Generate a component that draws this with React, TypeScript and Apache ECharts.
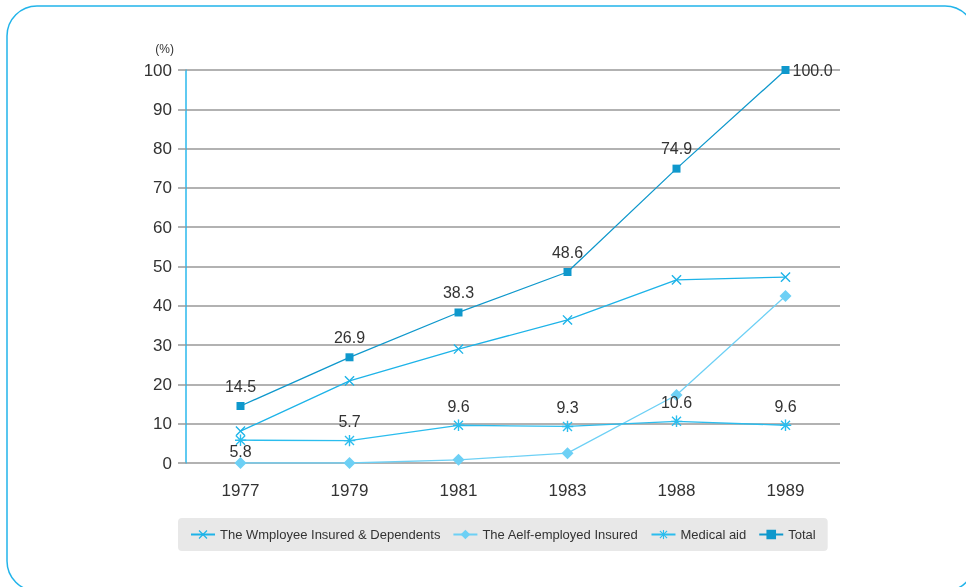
import React, { useEffect, useRef } from "react";
import * as echarts from "echarts";

const years = ["1977", "1979", "1981", "1983", "1988", "1989"];
const employee = [8.1, 20.9, 29.0, 36.4, 46.6, 47.3];
const selfEmployed = [0, 0, 0.8, 2.5, 17.3, 42.5];
const medicalAid = [5.8, 5.7, 9.6, 9.3, 10.6, 9.6];
const total = [14.5, 26.9, 38.3, 48.6, 74.9, 100.0];
const legendNames = ["The Wmployee Insured & Dependents", "The Aelf-employed Insured", "Medical aid", "Total"];

const font = "'Liberation Sans', Arial, sans-serif";

const crossSvg = (c: string) =>
  "image://data:image/svg+xml;utf8," +
  encodeURIComponent(`<svg xmlns="http://www.w3.org/2000/svg" width="12" height="12"><path d="M1 1L11 11M11 1L1 11" stroke="${c}" stroke-width="1.5"/></svg>`);
const starSvg = (c: string) =>
  "image://data:image/svg+xml;utf8," +
  encodeURIComponent(`<svg xmlns="http://www.w3.org/2000/svg" width="12" height="12"><path d="M1.5 1.5L10.5 10.5M10.5 1.5L1.5 10.5M6 0L6 12M0 6L12 6" stroke="${c}" stroke-width="1.4"/></svg>`);

export default function App() {
  const ref = useRef<HTMLDivElement>(null);
  useEffect(() => {
    const chart = echarts.init(ref.current!, null, { renderer: "svg" });
    const lbl = { show: true, color: "#333", fontSize: 16, fontFamily: font, formatter: (p: any) => Number(p.value).toFixed(1) };
    chart.setOption({
      animation: false,
      textStyle: { fontFamily: font },
      graphic: [
        {
          type: "rect",
          shape: { x: 7, y: 6, width: 968, height: 585, r: 30 },
          style: { fill: "none", stroke: "#22b4ea", lineWidth: 1.5 },
        },
      ],
      grid: { left: 186, right: 126, top: 70, bottom: 124 },
      legend: {
        bottom: 36,
        left: 178,
        backgroundColor: "#e8e8e8",
        borderRadius: 4,
        padding: [10, 12, 10, 12],
        itemWidth: 24,
        itemHeight: 12,
        itemGap: 12,
        textStyle: { fontSize: 13, color: "#333", fontFamily: font },
        data: legendNames,
      },
      xAxis: {
        type: "category",
        data: years,
        boundaryGap: true,
        axisLine: { show: false },
        axisTick: { show: false },
        axisLabel: { color: "#333", fontSize: 17, margin: 19, fontFamily: font },
      },
      yAxis: {
        type: "value",
        min: 0,
        max: 100,
        interval: 10,
        name: "(%)",
        nameGap: 15,
        nameTextStyle: { color: "#333", fontSize: 12, align: "right", padding: [0, 12, 0, 0], fontFamily: font },
        axisLine: { show: true, lineStyle: { color: "#2ab8ec", width: 1.5 } },
        axisTick: { show: true, inside: false, length: 8, lineStyle: { color: "#999", width: 1.5 } },
        axisLabel: { color: "#333", fontSize: 17, margin: 14, fontFamily: font },
        splitLine: { lineStyle: { color: "#999", width: 1.5 } },
      },
      series: [
        {
          name: legendNames[0],
          type: "line",
          data: employee,
          symbol: crossSvg("#1db3e8"),
          symbolSize: 11,
          itemStyle: { color: "#1db3e8" },
          lineStyle: { color: "#1db3e8", width: 1.3 },
        },
        {
          name: legendNames[1],
          type: "line",
          data: selfEmployed,
          symbol: "diamond",
          symbolSize: 12,
          itemStyle: { color: "#6dd0f5" },
          lineStyle: { color: "#6dd0f5", width: 1.3 },
        },
        {
          name: legendNames[2],
          type: "line",
          symbol: starSvg("#2bbdee"),
          symbolSize: 12,
          itemStyle: { color: "#2bbdee" },
          lineStyle: { color: "#2bbdee", width: 1.3 },
          label: { ...lbl, position: "top", distance: 5 },
          data: medicalAid.map((v, i) => (i === 0 ? { value: v, label: { position: "bottom", distance: -3 } } : v)),
        },
        {
          name: legendNames[3],
          type: "line",
          symbol: "rect",
          symbolSize: 8,
          itemStyle: { color: "#0f98cc" },
          lineStyle: { color: "#0f98cc", width: 1.3 },
          label: { ...lbl, position: "top", distance: 8 },
          z: 5,
          data: total.map((v, i) => (i === total.length - 1 ? { value: v, label: { position: "right", distance: 3 } } : v)),
        },
      ],
    });
    return () => chart.dispose();
  }, []);
  return <div ref={ref} style={{ position: "fixed", left: 0, top: 0, width: 966, height: 587 }} />;
}
